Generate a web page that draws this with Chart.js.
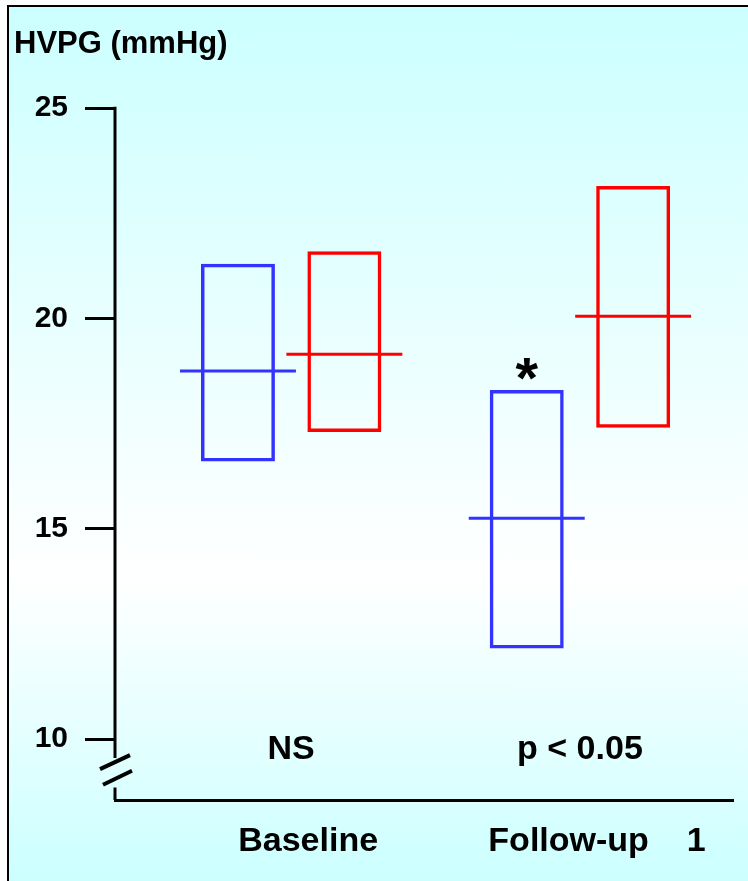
<!DOCTYPE html>
<html>
<head>
<meta charset="utf-8">
<script src="https://cdn.jsdelivr.net/npm/chart.js@4.4.1/dist/chart.umd.min.js"></script>
<style>
  html, body { margin: 0; padding: 0; background: #fff; }
  #wrap { position: relative; width: 748px; height: 881px; overflow: hidden; }
  #frame {
    position: absolute; left: 7px; top: 5px; right: 0; bottom: 0;
    border-left: 2px solid #000; border-top: 2px solid #000;
    background: linear-gradient(to bottom, #ccffff 0%, #ffffff 65%, #ccffff 100%);
  }
  #chart { position: absolute; left: 0; top: 0; }
</style>
</head>
<body>
<div id="wrap">
  <div id="frame"></div>
  <canvas id="chart" width="748" height="881"></canvas>
</div>
<script>
// groups on the x axis
const groups = ['Baseline', 'Follow-up    1'];
const groupIndex = [0, 1];
const pLabels = ['NS', 'p < 0.05'];

// blue group: box low / high and median line
const blueLow = [16.6, 12.15];
const blueHigh = [21.3, 18.3];
const blueMedian = [18.75, 15.25];
const blueStar = [false, true];

// red group
const redLow = [17.3, 17.4];
const redHigh = [21.6, 23.15];
const redMedian = [19.15, 20.05];

const yTicks = [10, 15, 20, 25];

const BLUE = '#3333ff';
const RED = '#ff0000';
const FONT = 'Liberation Sans, Arial, sans-serif';

const toBars = (low, high) => groupIndex.map((g, i) => ({ x: g, y: [low[i], high[i]] }));

const decorations = {
  id: 'decorations',
  afterDatasetsDraw(chart) {
    const { ctx, chartArea, scales: { x, y } } = chart;
    ctx.save();

    // median lines sticking out of each box
    [[blueMedian, BLUE], [redMedian, RED]].forEach(([medians, color], d) => {
      chart.getDatasetMeta(d).data.forEach((bar, i) => {
        const py = y.getPixelForValue(medians[i]);
        const half = bar.width / 2 + 21;
        ctx.strokeStyle = color;
        ctx.lineWidth = 3;
        ctx.beginPath();
        ctx.moveTo(bar.x - half, py);
        ctx.lineTo(bar.x + half, py);
        ctx.stroke();
      });
    });

    // significance star
    ctx.fillStyle = '#000';
    ctx.textAlign = 'center';
    ctx.textBaseline = 'middle';
    ctx.font = `bold 58px ${FONT}`;
    chart.getDatasetMeta(0).data.forEach((bar, i) => {
      if (blueStar[i]) ctx.fillText('*', bar.x, y.getPixelForValue(blueHigh[i]) - 8);
    });

    // p labels
    ctx.font = `bold 34px ${FONT}`;
    groupIndex.forEach((g, i) => {
      ctx.fillText(pLabels[i], x.getPixelForValue(g), y.getPixelForValue(9.74));
    });

    // y axis with a break
    const ax = chartArea.left;
    ctx.strokeStyle = '#000';
    ctx.lineWidth = 3;
    ctx.lineCap = 'butt';
    ctx.beginPath();
    ctx.moveTo(ax, chartArea.top - 1.5);
    ctx.lineTo(ax, y.getPixelForValue(9.55));
    ctx.moveTo(ax, y.getPixelForValue(8.85));
    ctx.lineTo(ax, chartArea.bottom);
    ctx.stroke();

    ctx.lineWidth = 4;
    const s1 = y.getPixelForValue(9.45);
    const s2 = y.getPixelForValue(9.08);
    ctx.beginPath();
    ctx.moveTo(ax - 15, s1 + 7);
    ctx.lineTo(ax + 15, s1 - 7);
    ctx.moveTo(ax - 12, s2 + 7);
    ctx.lineTo(ax + 17, s2 - 7);
    ctx.stroke();

    ctx.restore();
  }
};

new Chart(document.getElementById('chart'), {
  type: 'bar',
  data: {
    datasets: [
      {
        data: toBars(blueLow, blueHigh),
        backgroundColor: 'rgba(0,0,0,0)',
        borderColor: BLUE,
        borderWidth: 3.5,
        borderSkipped: false
      },
      {
        data: toBars(redLow, redHigh),
        backgroundColor: 'rgba(0,0,0,0)',
        borderColor: RED,
        borderWidth: 3.5,
        borderSkipped: false
      }
    ]
  },
  options: {
    responsive: false,
    animation: false,
    devicePixelRatio: 1,
    categoryPercentage: 0.737,
    barPercentage: 0.695,
    layout: { padding: { left: 14, right: 15, top: 0, bottom: 20 } },
    plugins: {
      legend: { display: false },
      tooltip: { enabled: false },
      title: {
        display: true,
        text: 'HVPG (mmHg)',
        align: 'start',
        color: '#000',
        font: { family: FONT, size: 31, weight: 'bold' },
        padding: { top: 26, bottom: 45 }
      }
    },
    scales: {
      x: {
        type: 'linear',
        min: -0.61,
        max: 1.53,
        offset: false,
        afterBuildTicks: s => { s.ticks = groupIndex.map(v => ({ value: v })); },
        afterFit: s => { s.height = 61; },
        ticks: {
          callback: v => groups[v],
          labelOffset: 17,
          padding: 21,
          autoSkip: false,
          maxRotation: 0,
          color: '#000',
          font: { family: FONT, size: 34, weight: 'bold' }
        },
        grid: { display: false, drawTicks: false, offset: false },
        border: { display: true, color: '#000', width: 3 }
      },
      y: {
        min: 8.55,
        max: 25,
        afterBuildTicks: s => { s.ticks = yTicks.map(v => ({ value: v })); },
        afterFit: s => { s.width = 101; },
        ticks: {
          padding: 17,
          color: '#000',
          font: { family: FONT, size: 30, weight: 'bold' }
        },
        grid: { drawOnChartArea: false, drawTicks: true, tickLength: 30, color: '#000', lineWidth: 3 },
        border: { display: false }
      }
    }
  },
  plugins: [decorations]
});
</script>
</body>
</html>
